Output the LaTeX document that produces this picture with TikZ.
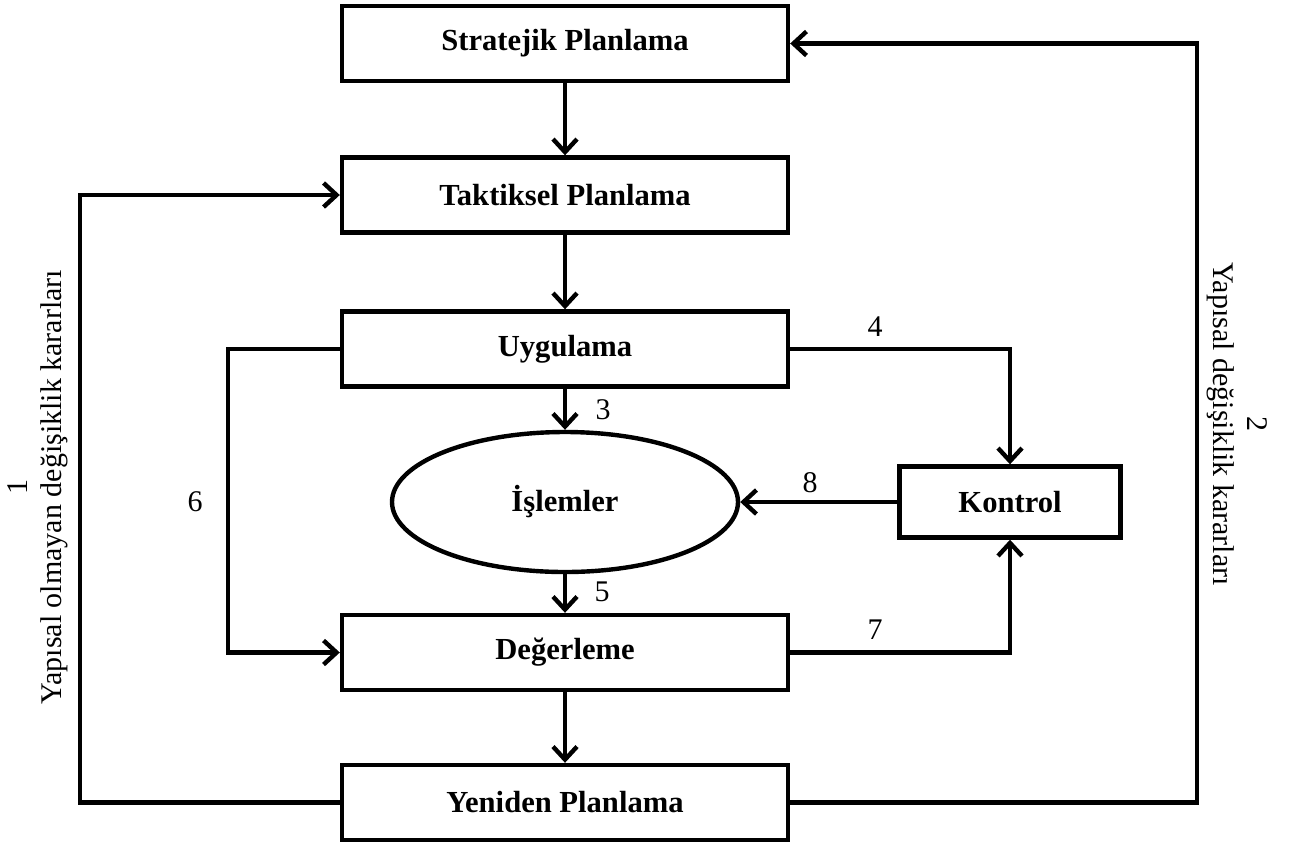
\documentclass[tikz,border=0pt]{standalone}
\usepackage{fontspec}
\setmainfont{Liberation Serif}
\usetikzlibrary{arrows.meta,shapes.geometric}

\begin{document}
\begin{tikzpicture}[x=0.5pt,y=-0.5pt,
  every node/.style={font=\fontsize{15}{17}\selectfont},
  stage/.style={draw, line width=2.2pt, rectangle, inner sep=0pt,
    minimum width=223pt, minimum height=37.5pt,
    font=\fontsize{15.3}{17}\selectfont\bfseries},
  oval/.style={draw, line width=2.2pt, ellipse, inner sep=0pt,
    minimum width=173pt, minimum height=70pt,
    font=\fontsize{15.3}{17}\selectfont\bfseries},
  flow/.style={line width=2.2pt, -{Straight Barb[length=6.5pt,width=12pt]}},
  num/.style={inner sep=0pt, font=\fontsize{15}{17}\selectfont},
  side/.style={align=center, inner sep=0pt, font=\fontsize{15}{17}\selectfont}
]
\useasboundingbox (0,0) rectangle (1289,847);

% main chain of stages
\node[stage] (strat) at (565,43.5)  {Stratejik Planlama};
\node[stage] (takt)  at (565,195)   {Taktiksel Planlama};
\node[stage] (uyg)   at (565,349)   {Uygulama};
\node[oval]  (isl)   at (565,502)   {İşlemler};
\node[stage] (deg)   at (565,652.5) {Değerleme};
\node[stage] (yen)   at (565,802.5) {Yeniden Planlama};
\node[stage, minimum width=110.5pt, minimum height=35.5pt] (kon) at (1010,502) {Kontrol};

% corner points of the feedback loops
\coordinate (c1) at (80,0);
\coordinate (c2) at (1197,0);
\coordinate (c6) at (228,0);

% vertical flow
\draw[flow] (strat.south) -- (takt.north);
\draw[flow] (takt.south) -- (uyg.north);
\draw[flow] (uyg.south) -- (isl.north);
\draw[flow] (isl.south) -- (deg.north);
\draw[flow] (deg.south) -- (yen.north);

% control loops
\draw[flow] (uyg.east) -| (kon.north);
\draw[flow] (kon.west) -- (isl.east);
\draw[flow] (deg.east) -| (kon.south);
\draw[flow] (uyg.west) -- (uyg.west -| c6) |- (deg.west);

% replanning loops
\draw[flow] (yen.west) -- (yen.west -| c1) |- (takt.west);
\draw[flow] (yen.east) -- (yen.east -| c2) |- (strat.east);

% connector numbers
\node[num] (n3) at (603,410) {3};
\node[num] (n4) at (875,327) {4};
\node[num] (n5) at (602,592) {5};
\node[num] (n6) at (195,502) {6};
\node[num] (n7) at (875,630) {7};
\node[num] (n8) at (810,483) {8};

% loop captions
\node[side, rotate=90]  (l1) at (38,487)   {1\\Yapısal olmayan değişiklik kararları};
\node[side, rotate=-90] (l2) at (1237,424) {2\\Yapısal değişiklik kararları};
\end{tikzpicture}
\end{document}
